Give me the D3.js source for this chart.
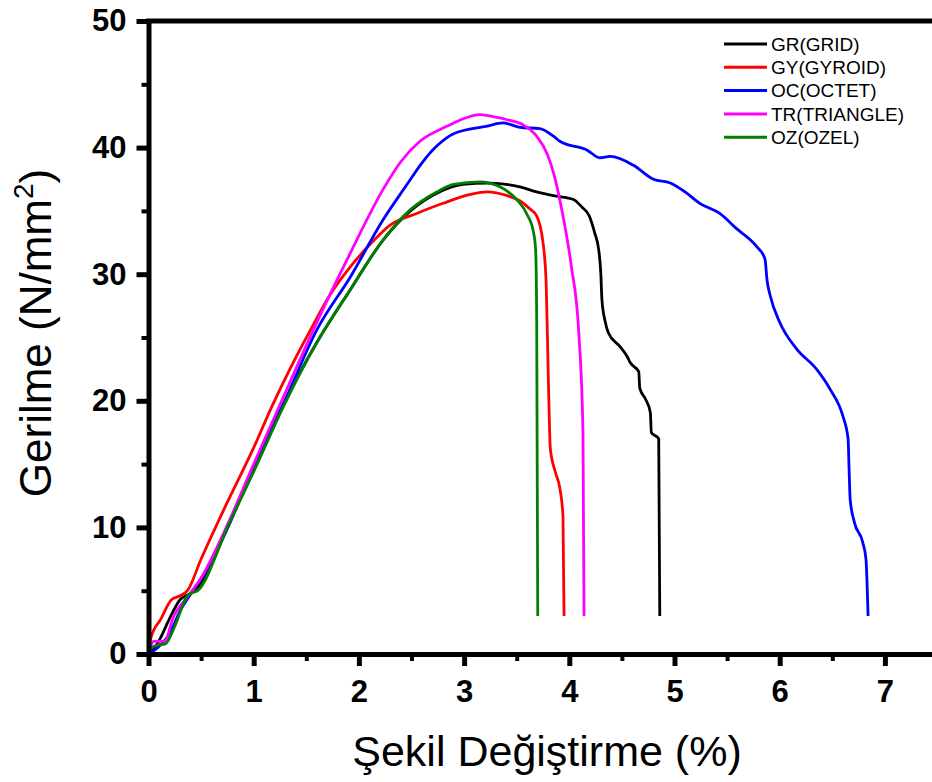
<!DOCTYPE html>
<html>
<head>
<meta charset="utf-8">
<script src="https://cdn.jsdelivr.net/npm/d3@7"></script>
<style>
  body { margin: 0; background: #fff; }
  text { font-family: Arial, "Liberation Sans", sans-serif; }
</style>
</head>
<body>
<div id="vis"></div>
<script>
// series names and colours (legend order)
var seriesNames = ["GR(GRID)", "GY(GYROID)", "OC(OCTET)", "TR(TRIANGLE)", "OZ(OZEL)"];
var seriesColors = ["#000000", "#ff0000", "#0000ff", "#ff00ff", "#008000"];

// strain (%) / stress (N/mm2) pairs
var grData = [[0,0],[0.05,0.4],[0.11,1.2],[0.2,2.8],[0.3,4.3],[0.4,4.8],[0.5,5.6],[0.75,10.0],[1.0,14.7],
  [1.28,19.7],[1.6,24.6],[1.92,28.8],[2.23,32.7],[2.49,35.0],[2.74,36.4],[2.99,37.1],[3.22,37.2],[3.4,37.1],
  [3.53,36.9],[3.69,36.5],[3.85,36.2],[4.04,35.9],[4.12,35.3],[4.19,34.6],[4.24,33.3],[4.28,31.9],[4.30,30.0],
  [4.31,28.0],[4.34,26.3],[4.37,25.4],[4.48,24.3],[4.55,23.5],[4.58,23.0],[4.66,22.3],[4.67,21.0],[4.72,20.2],
  [4.77,19.1],[4.78,17.5],[4.85,17.0],[4.86,3.0]];

var gyData = [[0,0],[0.02,1.2],[0.12,2.8],[0.22,4.3],[0.3,4.6],[0.37,5.0],[0.5,7.5],[0.75,12.0],[1.0,16.3],
  [1.17,19.5],[1.35,22.6],[1.54,25.6],[1.72,28.3],[1.92,30.6],[2.1,32.3],[2.30,33.9],[2.55,34.8],[2.8,35.6],
  [3.06,36.3],[3.22,36.5],[3.41,36.2],[3.53,35.8],[3.62,35.2],[3.69,34.6],[3.75,32.5],[3.78,29.3],[3.80,22.0],
  [3.82,16.2],[3.87,14.3],[3.91,13.1],[3.94,10.9],[3.95,3.0]];

var ocData = [[0,0],[0.1,0.6],[0.2,1.6],[0.3,3.4],[0.43,5.1],[0.55,6.6],[0.75,9.9],[1.0,14.8],[1.27,19.5],
  [1.6,25.6],[1.92,29.8],[2.23,34.3],[2.45,37.0],[2.6,38.8],[2.75,40.2],[2.9,41.1],[3.22,41.7],[3.37,41.95],
  [3.53,41.6],[3.72,41.5],[3.85,40.9],[3.91,40.5],[4.17,39.8],[4.29,39.2],[4.39,39.3],[4.61,38.6],[4.80,37.5],
  [4.96,37.2],[5.1,36.5],[5.24,35.6],[5.43,34.8],[5.59,33.6],[5.78,32.2],[5.86,31.2],[5.88,29.5],[5.91,28.3],
  [6.0,26.2],[6.16,24.1],[6.35,22.5],[6.48,20.9],[6.60,18.8],[6.65,17.0],[6.66,14.5],[6.67,12.2],[6.71,10.4],
  [6.79,8.8],[6.82,7.5],[6.84,3.0]];

var trData = [[0,0],[0.05,1.0],[0.15,1.0],[0.24,3.0],[0.35,4.3],[0.5,6.0],[0.75,10.2],[1.0,15.0],[1.24,19.5],
  [1.6,26.2],[1.92,31.7],[2.23,36.7],[2.4,38.9],[2.58,40.5],[2.84,41.7],[3.0,42.3],[3.15,42.6],[3.3,42.4],
  [3.41,42.2],[3.56,41.8],[3.69,40.9],[3.79,39.5],[3.85,38.0],[3.94,34.6],[4.02,30.6],[4.09,25.4],[4.13,17.5],
  [4.14,3.0]];

var ozData = [[0,0],[0.02,0.4],[0.08,0.7],[0.16,0.8],[0.25,2.2],[0.37,4.6],[0.48,5.1],[0.75,10.0],[1.0,14.4],
  [1.28,19.5],[1.6,24.6],[1.92,28.8],[2.23,32.7],[2.49,35.1],[2.74,36.5],[2.90,37.1],[3.15,37.3],[3.34,36.9],
  [3.50,35.9],[3.60,34.7],[3.66,33.3],[3.68,31.9],[3.69,26.7],[3.70,3.0]];

var xTicks = [0, 1, 2, 3, 4, 5, 6, 7];
var yTicks = [0, 10, 20, 30, 40, 50];

var allSeries = [grData, gyData, ocData, trData, ozData];

// chart size
var width = 932, height = 782;

var x = d3.scaleLinear().domain([0, 7.5]).range([148.5, 937.5]);
var y = d3.scaleLinear().domain([0, 50]).range([654, 21]);

var svg = d3.select("#vis").append("svg")
    .attr("width", width)
    .attr("height", height);

var line = d3.line()
    .curve(d3.curveMonotoneX)
    .x(function(d) { return x(d[0]); })
    .y(function(d) { return y(d[1]); });

// curves
allSeries.forEach(function(s, i) {
  svg.append("path")
      .datum(s)
      .attr("fill", "none")
      .attr("stroke", seriesColors[i])
      .attr("stroke-width", 2.8)
      .attr("stroke-linejoin", "round")
      .attr("d", line);
});

// minor ticks
var xMinor = d3.range(0.5, 7.5, 1);
var yMinor = d3.range(5, 50, 10);

svg.append("g")
    .attr("transform", "translate(0," + y(0) + ")")
    .call(d3.axisBottom(x).tickValues(xMinor).tickSize(7).tickFormat(""))
    .call(function(g) { g.select(".domain").remove(); })
    .selectAll("line").attr("stroke-width", 4);

svg.append("g")
    .attr("transform", "translate(" + x(0) + ",0)")
    .call(d3.axisLeft(y).tickValues(yMinor).tickSize(7).tickFormat(""))
    .call(function(g) { g.select(".domain").remove(); })
    .selectAll("line").attr("stroke-width", 4);

// X axis
var xAxis = svg.append("g")
    .attr("transform", "translate(0," + y(0) + ")")
    .call(d3.axisBottom(x).tickValues(xTicks).tickSize(12).tickPadding(14).tickSizeOuter(0));
xAxis.select(".domain").attr("stroke-width", 5);
xAxis.selectAll(".tick line").attr("stroke-width", 5);
xAxis.selectAll(".tick text")
    .attr("font-size", 31).attr("font-weight", "bold").attr("fill", "#000")
    .attr("font-family", "Arial, 'Liberation Sans', sans-serif");

// Y axis
var yAxis = svg.append("g")
    .attr("transform", "translate(" + x(0) + ",0)")
    .call(d3.axisLeft(y).tickValues(yTicks).tickSize(12).tickPadding(10).tickSizeOuter(0));
yAxis.select(".domain").attr("stroke-width", 5);
yAxis.selectAll(".tick line").attr("stroke-width", 5);
yAxis.selectAll(".tick text")
    .attr("font-size", 31).attr("font-weight", "bold").attr("fill", "#000")
    .attr("font-family", "Arial, 'Liberation Sans', sans-serif");

// top frame
svg.append("line")
    .attr("x1", x(0) - 2.5).attr("x2", x(7.5))
    .attr("y1", y(50)).attr("y2", y(50))
    .attr("stroke", "#000").attr("stroke-width", 5);

// axis titles
svg.append("text")
    .attr("x", 547).attr("y", 766)
    .attr("text-anchor", "middle")
    .attr("font-size", 43)
    .text("Şekil Değiştirme (%)");

var yt = svg.append("text")
    .attr("transform", "translate(51,333)rotate(-90)")
    .attr("text-anchor", "middle")
    .attr("font-size", 44);
yt.append("tspan").text("Gerilme (N/mm");
yt.append("tspan").attr("font-size", 28).attr("dy", -18).text("2");
yt.append("tspan").attr("dy", 18).text(")");

// legend
var legend = svg.append("g").attr("transform", "translate(724,44)");
seriesNames.forEach(function(name, i) {
  var row = legend.append("g").attr("transform", "translate(0," + (i * 23.3) + ")");
  row.append("line")
      .attr("x1", 0).attr("x2", 43)
      .attr("stroke", seriesColors[i]).attr("stroke-width", 3);
  row.append("text")
      .attr("x", 47).attr("dy", "0.35em")
      .attr("font-size", 19)
      .text(name);
});
</script>
</body>
</html>
